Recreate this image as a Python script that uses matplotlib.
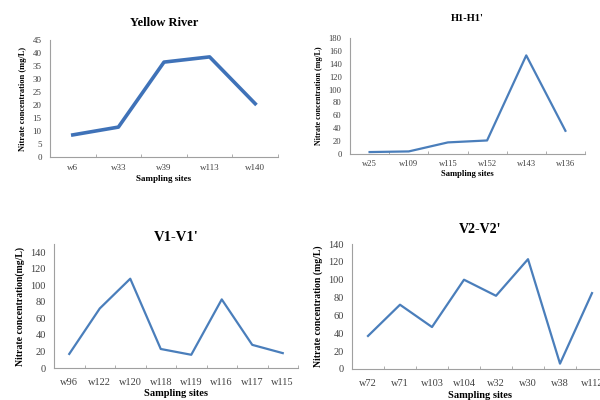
import numpy as np
import matplotlib.pyplot as plt
from matplotlib.ticker import FixedLocator

plt.rcParams['font.family'] = ['Liberation Serif', 'DejaVu Serif']

# Nitrate concentration (mg/L) along each profile
yr_sites = ['w6', 'w33', 'w39', 'w113', 'w140']
yr_vals = [8.5, 11.5, 36.5, 38.5, 20.5]

h1_sites = ['w25', 'w109', 'w115', 'w152', 'w143', 'w136']
h1_vals = [3, 4, 18, 21, 153, 36]

v1_sites = ['w96', 'w122', 'w120', 'w118', 'w119', 'w116', 'w117', 'w115']
v1_vals = [17, 72, 108, 23, 16, 83, 28, 18]

v2_sites = ['w72', 'w71', 'w103', 'w104', 'w32', 'w30', 'w38', 'w112']
v2_vals = [37, 72, 47, 100, 82, 123, 6, 85]

W, H = 600, 400
fig = plt.figure(figsize=(6, 4), dpi=100)


def panel(left, right, top, bottom, sites, vals, ymax, ystep, title,
          ylabel, title_size, tick_size, lw, title_pad, xpad=7, color='#4A7EBB'):
    ax = fig.add_axes([left / W, 1 - bottom / H, (right - left) / W, (bottom - top) / H])
    x = np.arange(len(sites))
    ax.plot(x, vals, color=color, lw=lw, solid_joinstyle='round')
    ax.set_xlim(-0.5, len(sites) - 0.5)
    ax.set_ylim(0, ymax)
    ax.set_yticks(np.arange(0, ymax + 0.1, ystep))
    ax.set_xticks(x)
    ax.set_xticklabels(sites)
    ax.xaxis.set_minor_locator(FixedLocator(np.arange(-0.5, len(sites), 1)))
    ax.tick_params(axis='x', which='major', length=0, labelsize=tick_size,
                   colors='#404040', pad=xpad)
    ax.tick_params(axis='x', which='minor', length=2.5, direction='in', color='#a0a0a0')
    ax.tick_params(axis='y', length=0, labelsize=tick_size, colors='#404040', pad=6)
    for s in ['top', 'right']:
        ax.spines[s].set_visible(False)
    for s in ['left', 'bottom']:
        ax.spines[s].set_color('#a0a0a0')
        ax.spines[s].set_linewidth(0.8)
    ax.set_title(title, fontsize=title_size, fontweight='bold', pad=title_pad)
    ax.set_xlabel('Sampling sites', fontsize=tick_size, fontweight='bold', labelpad=2)
    ax.set_ylabel(ylabel, fontsize=tick_size - 0.5, fontweight='bold', labelpad=4)
    return ax


panel(50, 278, 40, 157, yr_sites, yr_vals, 45, 5, 'Yellow River',
      'Nitrate concentration (mg/L)', 9, 6.5, 2.6, 10, xpad=5, color='#3F72B8')
panel(350, 585, 38, 154, h1_sites, h1_vals, 180, 20, "H1-H1'",
      'Nitrate concentration (mg/L)', 7.5, 6.2, 1.6, 12, xpad=4)
panel(54, 298, 244, 368, v1_sites, v1_vals, 150, 20, "V1-V1'",
      'Nitrate concentration(mg/L)', 10.5, 7.5, 1.6, 1)
panel(352, 608, 244, 369, v2_sites, v2_vals, 140, 20, "V2-V2'",
      'Nitrate concentration (mg/L)', 10, 7.5, 1.6, 8)

fig.savefig('out.png', dpi=100)
